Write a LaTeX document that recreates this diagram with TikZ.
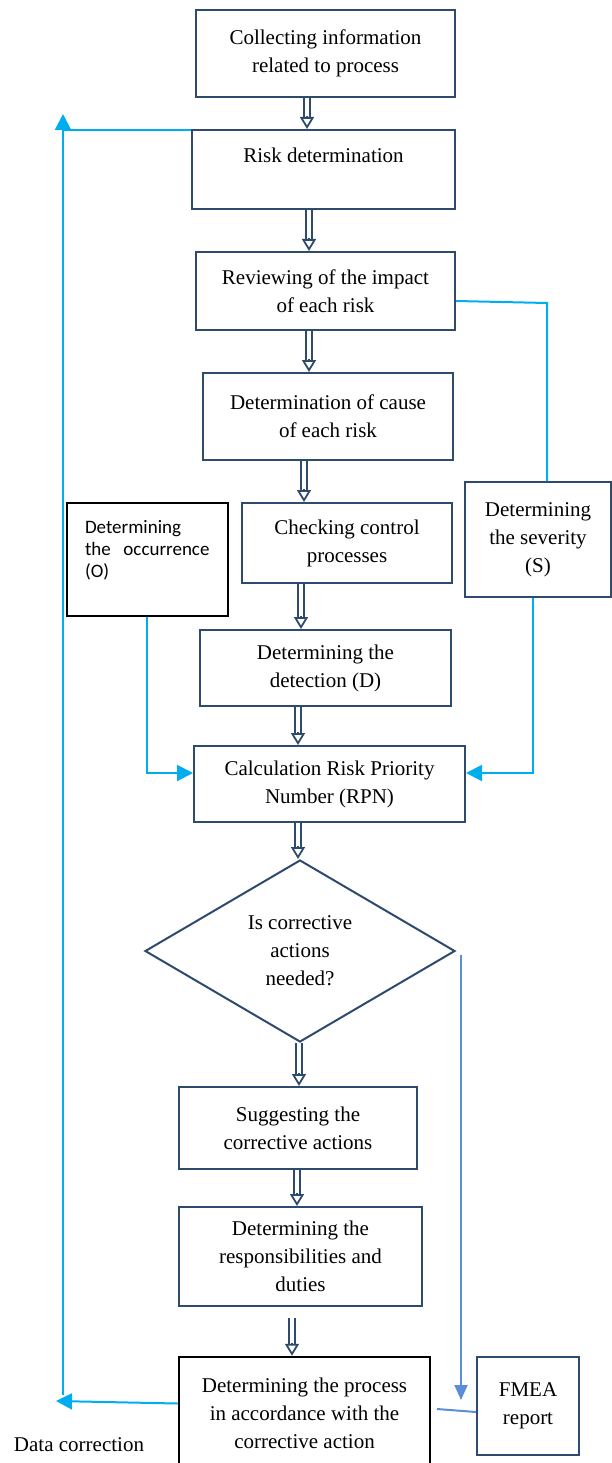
\documentclass[tikz,border=0pt]{standalone}
\usepackage{fontspec}
\setmainfont{Liberation Serif}
\newfontfamily\calib{Carlito}
\usetikzlibrary{arrows.meta,shapes.geometric}
\definecolor{navy}{HTML}{2E4A6D}
\definecolor{lblue}{HTML}{00AEEF}
\definecolor{mblue}{HTML}{5A8ED8}
\pgfdeclarelayer{bg}
\pgfsetlayers{bg,main}
\newcommand\dblarrow[2]{%
  \draw[dblshaft] (#1) -- ([yshift=11pt]#2);
  \draw[dblhead] ([yshift=13pt]#2) -- (#2);}
\begin{document}
\begin{tikzpicture}[x=1pt,y=-1pt,
  box/.style={draw=navy, line width=2pt, align=center, inner sep=0pt,
    font=\fontsize{21}{28}\selectfont, fill=white},
  blkbox/.style={box, draw=black, line width=2.5pt},
  dblshaft/.style={draw=navy, double=white, double distance=4pt, line width=1.8pt},
  dblhead/.style={draw=navy, line width=1.8pt,
    -{Triangle[open, fill=white, length=12pt, width=14pt]}},
  lb/.style={draw=lblue, line width=2pt},
  mb/.style={draw=mblue, line width=2pt},
  tri/.style={-{Triangle[length=16pt,width=16pt]}},
  tris/.style={-{Triangle[length=15pt,width=13pt]}},
]
\useasboundingbox (0,0) rectangle (612,1463);
\clip (0,0) rectangle (612,1463);

\node[box, minimum width=259pt, minimum height=87pt] (b1) at (325.5,53.5)
  {Collecting information\\related to process};
\node[box, minimum width=263pt, minimum height=79pt] (b2) at (323.5,169.5)
  {Risk determination\\\mbox{}};
\node[box, minimum width=259pt, minimum height=78pt] (b3) at (325.5,291)
  {Reviewing of the impact\\of each risk};
\node[box, minimum width=250pt, minimum height=87pt] (b4) at (328,416.5)
  {Determination of cause\\of each risk};
\node[box, minimum width=210pt, minimum height=80pt] (b5) at (347,543)
  {Checking control\\processes};
\node[box, draw=black, line width=1.5pt, minimum width=161pt, minimum height=113pt,
  align=left, text width=125pt, font=\calib\fontsize{19}{22}\selectfont] (occ) at (147.5,559.5)
  {Determining\\the\ \ occurrence\\(O)\\\mbox{}};
\node[box, minimum width=146pt, minimum height=115pt] (sev) at (538,539.5)
  {Determining\\the severity\\(S)};
\node[box, minimum width=251pt, minimum height=76pt] (b8) at (325.5,668)
  {Determining the\\detection (D)};
\node[box, minimum width=271pt, minimum height=76pt] (b9) at (329.5,784)
  {Calculation Risk Priority\\Number (RPN)};
\node[box, shape=diamond, minimum width=310pt, minimum height=182pt] (dia) at (300,951)
  {Is corrective\\actions\\needed?};
\node[box, minimum width=238pt, minimum height=82pt] (b11) at (298,1128)
  {Suggesting the\\corrective actions};
\node[box, minimum width=243pt, minimum height=99pt] (b12) at (300.5,1256.5)
  {Determining the\\responsibilities and\\duties};
\node[blkbox, minimum width=251pt, minimum height=113pt] (b13) at (304.5,1413.5)
  {Determining the process\\in accordance with the\\corrective action};
\node[box, minimum width=102pt, minimum height=98pt] (fmea) at (528,1406)
  {FMEA\\report};
\node[font=\fontsize{21}{28}\selectfont, inner sep=0pt] (dc) at (79,1445) {Data correction};

% double arrows
\dblarrow{b1.south -| 307,0}{b2.north -| 307,0}
\dblarrow{b2.south -| 309,0}{b3.north -| 309,0}
\dblarrow{b3.south -| 309,0}{b4.north -| 309,0}
\dblarrow{b4.south -| 304,0}{b5.north -| 304,0}
\dblarrow{b5.south -| 301,0}{b8.north -| 301,0}
\dblarrow{b8.south -| 298,0}{b9.north -| 298,0}
\dblarrow{b9.south -| 298,0}{dia.north -| 298,0}
\dblarrow{dia.south -| 299,0}{b11.north -| 299,0}
\dblarrow{b11.south -| 297,0}{b12.north -| 297,0}
\coordinate (r1) at (292,1318);
\dblarrow{r1}{b13.north -| r1}

% light blue connectors
\coordinate (dc1) at (56,1401);
\coordinate (dc2) at (63,1395);
\coordinate (dc3) at (63,114);
\coordinate (dc4) at (63,130);
\coordinate (dc5) at (307,130);
\begin{pgfonlayer}{bg}
\draw[lb] (dc4) -- (dc5);
\end{pgfonlayer}
\draw[lb, tri] ([yshift=10pt]b13.west) -- (dc1);
\draw[lb, tri] (dc2) -- (dc3);

\coordinate (s1) at (547,303);
\draw[lb] ([yshift=-10pt]b3.east) -- (s1) -- (s1 |- sev.north);
\coordinate (s2) at (533,773);
\draw[lb, tri] (s2 |- sev.south) -- (s2) -- (s2 -| b9.east);
\coordinate (o2) at (147,773);
\draw[lb, tri] (occ.south -| o2) -- (o2) -- (o2 -| b9.west);

% medium blue
\coordinate (d1) at (461,955);
\coordinate (d2) at (461,1400);
\draw[mb, tris] (d1) -- (d2);
\coordinate (f1) at (437,1409);
\draw[mb] (f1) -- ([yshift=-6pt]fmea.west);
\end{tikzpicture}
\end{document}
